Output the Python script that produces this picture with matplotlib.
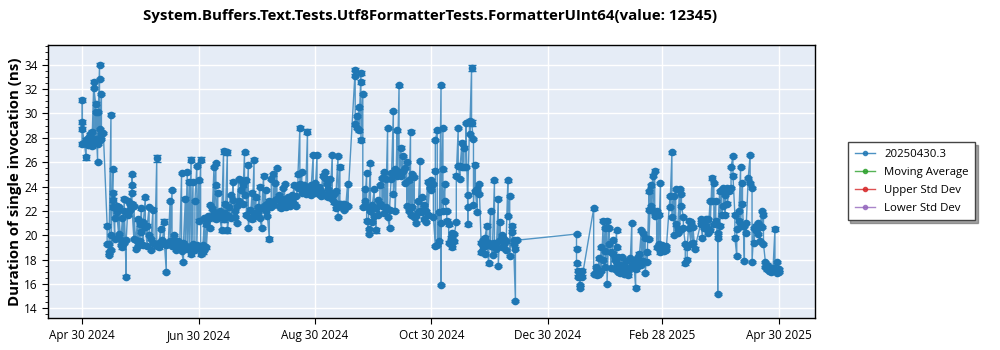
import numpy as np
import matplotlib
matplotlib.use("Agg")
import matplotlib.pyplot as plt
import matplotlib.dates as mdates
from matplotlib.lines import Line2D
from datetime import datetime, timedelta

plt.rcParams["font.family"] = ["Open Sans", "DejaVu Sans"]

# run date offset (days from first run), measured values in ns, stderr in ns
START = datetime(2024, 4, 30)

may_jun = [
    (0, [29.3, 31.1, 27.5, 28.7], 0.15), (1, [27.6], 0.1), (2, [26.4, 27.8], 0.2),
    (3, [27.4, 28.0], 0.1), (4, [27.5, 28.3], 0.1), (5, [27.9, 28.5, 27.3], 0.1),
    (6, [32.6, 27.6, 32.1], 0.1), (7, [30.8, 27.9, 30.1], 0.1), (8, [26.0, 30.1, 27.5], 0.1),
    (9, [34.0, 28.7, 32.8, 27.8], 0.1), (10, [31.6, 28.3, 27.9], 0.1), (11, [28.4], 0.1),
    (13, [20.8, 19.3], 0.1), (14, [18.6, 18.4, 19.3], 0.1), (15, [29.9, 20.0, 18.8], 0.1),
    (16, [25.4, 23.5, 22.3, 22.9], 0.15), (17, [19.7, 21.4], 0.1), (18, [22.4, 21.9], 0.1),
    (19, [20.1, 22.3], 0.1), (20, [19.6, 19.2], 0.1), (21, [21.4, 19.0], 0.1),
    (22, [23.0, 19.4, 22.0], 0.1), (23, [16.6, 19.6], 0.1), (24, [22.8, 21.7], 0.1),
    (25, [22.6, 22.1], 0.1), (26, [24.1, 25.0, 23.5, 22.6, 22.3], 0.1), (27, [19.7, 22.4], 0.1),
    (28, [18.9, 19.6], 0.1), (29, [21.3, 19.1], 0.1), (30, [20.9, 19.5], 0.1),
    (31, [22.2, 20.3], 0.1), (32, [19.2, 21.1], 0.1), (33, [23.1, 20.7], 0.1),
    (34, [19.1, 20.8], 0.1), (35, [22.3, 20.0], 0.1), (36, [18.8, 19.7], 0.1),
    (37, [22.1, 19.4], 0.1), (38, [19.3], 0.1), (39, [26.3, 19.2], 0.25),
    (40, [19.4, 19.0], 0.1), (41, [20.5, 19.3], 0.1), (42, [19.6], 0.1),
    (43, [21.1, 19.4], 0.2), (44, [17.0, 19.2], 0.1), (45, [19.3], 0.1),
    (46, [22.8, 19.5], 0.1), (47, [23.7, 19.1], 0.1), (48, [20.0, 19.6], 0.1),
    (49, [19.3, 18.8], 0.1), (50, [19.5], 0.1), (51, [18.9, 19.0], 0.1),
    (52, [25.1, 18.7], 0.1), (53, [17.8, 19.4], 0.1), (54, [23.0, 19.2], 0.1),
    (55, [25.2, 18.9], 0.1), (56, [24.4, 19.0], 0.1), (57, [26.2, 18.5], 0.2),
    (58, [24.4, 19.3], 0.1), (59, [18.8, 22.8], 0.1), (60, [25.7, 19.2], 0.1),
    (61, [24.5, 21.2], 0.1), (62, [26.2, 19.0, 18.5], 0.2),
]

jul_aug = [
    (63, [19.2, 18.6], 0.1), (64, [21.4, 18.8], 0.1), (65, [20.9, 19.0], 0.1),
    (66, [21.6, 21.3], 0.1), (67, [20.6, 22.5], 0.1), (68, [22.2, 21.5], 0.1),
    (69, [25.6, 21.9], 0.1), (70, [25.9, 24.1, 21.3], 0.1), (71, [23.5, 21.5], 0.1),
    (72, [22.0, 21.5], 0.1), (73, [20.4, 21.6], 0.1), (74, [26.9, 21.3], 0.2),
    (75, [22.6, 21.8], 0.1), (76, [26.8, 20.4], 0.2), (77, [21.6, 22.3], 0.1),
    (78, [23.3, 21.4], 0.1), (79, [24.4, 22.9], 0.1), (80, [22.0, 21.5], 0.1),
    (81, [21.0, 22.4], 0.1), (82, [24.6, 22.8], 0.1), (83, [23.7, 24.5], 0.1),
    (84, [24.1, 22.6], 0.1), (85, [26.8, 23.3], 0.1), (86, [24.5, 21.7], 0.1),
    (87, [25.8, 20.6], 0.1), (88, [22.1, 21.4], 0.1), (89, [23.5, 21.3], 0.1),
    (90, [26.2, 21.8], 0.1), (91, [23.1, 21.6], 0.1), (92, [22.3, 21.9], 0.1),
    (93, [24.0, 21.4], 0.1), (94, [20.6, 22.2], 0.1), (95, [24.9, 22.4], 0.1),
    (96, [23.7, 22.0], 0.1), (97, [22.6, 21.6], 0.1), (98, [19.7, 22.8], 0.15),
    (99, [22.3, 24.6], 0.1), (100, [25.0, 22.5], 0.1), (101, [24.3, 22.9], 0.1),
    (102, [25.5, 23.0], 0.1), (103, [23.3, 22.4], 0.1), (104, [23.0, 22.2], 0.1),
    (105, [23.9, 22.6], 0.1), (106, [24.2, 22.8], 0.1), (107, [22.3, 23.0], 0.1),
    (108, [23.1, 22.5], 0.1), (109, [22.4, 22.7], 0.1), (110, [23.3, 22.9], 0.1),
    (111, [24.1, 22.6], 0.1), (112, [22.4, 23.2], 0.1), (113, [23.9, 25.0], 0.1),
    (114, [28.8, 24.2], 0.2), (115, [25.2, 23.5], 0.1), (116, [23.6, 24.1], 0.1),
    (117, [23.8, 23.4], 0.1), (118, [28.5, 23.7], 0.2), (119, [24.0, 23.4], 0.1),
    (120, [23.3, 24.1], 0.1), (121, [26.6, 23.7], 0.1), (122, [24.3, 23.5], 0.1),
]

sep_oct = [
    (123, [26.6, 23.7], 0.1), (124, [23.4, 24.0], 0.1), (125, [23.6, 23.2], 0.1),
    (126, [24.9, 23.3], 0.1), (127, [25.2, 24.7], 0.1), (128, [23.4, 24.2], 0.1),
    (129, [23.8, 23.1], 0.1), (130, [24.6, 23.5], 0.1), (131, [26.6, 23.0], 0.1),
    (132, [22.7, 23.4], 0.1), (133, [22.2, 23.6], 0.1), (134, [26.5, 21.5], 0.1),
    (135, [25.6, 22.6], 0.2), (136, [22.3, 22.4], 0.1), (137, [22.1, 22.6], 0.1),
    (138, [22.5, 22.3], 0.1), (139, [24.2, 22.4], 0.1),
    (143, [33.6, 33.1, 29.1], 0.1), (144, [29.8, 28.8], 0.1), (145, [30.5, 28.6], 0.1),
    (146, [33.3, 32.6, 27.8], 0.15), (147, [31.6, 22.3], 0.1), (148, [23.8, 22.8, 22.4], 0.1),
    (149, [25.1, 21.2], 0.1), (150, [20.5, 20.1, 22.3], 0.1), (151, [25.9, 22.0], 0.1),
    (152, [21.1, 22.5], 0.1), (153, [23.8, 21.6], 0.1), (154, [20.4, 22.2], 0.2),
    (155, [22.9, 21.7], 0.1), (156, [22.6, 24.1], 0.1), (157, [24.7, 22.4], 0.1),
    (158, [25.2, 21.8], 0.1), (159, [24.6, 22.3], 0.1), (160, [28.8, 21.5], 0.1),
    (161, [20.6, 22.1], 0.1), (162, [25.1, 24.6], 0.1), (163, [30.2, 23.4], 0.1),
    (164, [25.4, 22.0], 0.1), (165, [28.6, 24.9], 0.1), (166, [32.3, 25.2], 0.1),
    (167, [27.2, 24.9], 0.1), (168, [26.5, 25.3], 0.1), (169, [25.5, 24.3], 0.1),
    (170, [26.0, 22.4], 0.1), (171, [24.5, 22.0], 0.1), (172, [28.5, 21.7], 0.1),
    (173, [25.0, 22.3], 0.1), (174, [24.8, 21.5], 0.1), (175, [21.0, 21.6], 0.1),
    (176, [22.8, 21.9], 0.1), (177, [26.1, 22.0], 0.1), (178, [23.1, 21.9], 0.1),
    (179, [22.5, 21.3], 0.1), (180, [21.1, 22.0], 0.1), (181, [24.4, 21.7], 0.1),
    (182, [24.0, 23.9], 0.1), (183, [24.5, 23.7], 0.1), (184, [24.2, 21.5], 0.1),
    (185, [19.1, 25.3, 27.8], 0.1), (186, [28.6, 19.2], 0.1), (187, [21.9, 19.5], 0.1),
    (188, [32.3, 15.9, 21.0], 0.1),
]

nov_dec = [
    (189, [28.8, 25.4, 22.0], 0.1), (190, [24.2, 22.8], 0.1), (191, [22.0, 21.2], 0.1),
    (192, [20.9, 19.4], 0.1), (193, [19.3, 19.8], 0.1), (194, [19.0, 20.2], 0.1),
    (195, [19.5, 20.1], 0.1), (196, [21.1, 24.9], 0.1), (197, [28.8, 25.7], 0.1),
    (198, [24.6, 25.7], 0.1), (199, [27.6, 25.6], 0.1), (200, [27.2, 25.6], 0.1),
    (201, [25.6, 29.2], 0.1), (202, [22.3, 20.9, 23.3], 0.1), (203, [29.4, 28.3], 0.1),
    (204, [33.7, 29.2], 0.25), (205, [27.9, 22.5], 0.1), (206, [25.8, 23.6], 0.1),
    (207, [21.9, 23.8], 0.1), (208, [23.4, 24.2], 0.1), (209, [19.4, 18.6], 0.1),
    (210, [19.0, 19.6], 0.1), (211, [18.5, 19.8], 0.1), (212, [20.8, 19.2], 0.1),
    (213, [17.7, 19.4], 0.1), (214, [22.0, 19.1], 0.1), (215, [18.4, 19.3], 0.1),
    (216, [24.5, 19.4], 0.1), (217, [19.4, 18.9], 0.1), (218, [23.0, 17.5], 0.1),
    (219, [21.1, 19.6], 0.1), (220, [20.0, 19.0], 0.1), (221, [19.3, 19.7], 0.1),
    (222, [19.5, 18.8], 0.1), (223, [24.5, 21.6], 0.1), (224, [23.2, 18.3], 0.1),
    (225, [20.8, 20.3], 0.1), (226, [19.6, 19.3], 0.1), (227, [14.6, 18.9], 0.1),
    (228, [19.6], 0.1),
]

jan_feb = [
    (259, [20.1, 18.9, 17.7], 0.1), (260, [16.6, 17.1], 0.1), (261, [15.9, 15.7, 16.9], 0.1),
    (262, [17.1, 16.6], 0.1), (268, [22.2, 16.8], 0.1), (269, [17.4, 16.9], 0.1),
    (270, [16.7, 17.2], 0.1), (271, [18.1, 16.8], 0.1), (272, [19.0, 17.1], 0.1),
    (273, [21.2, 18.0], 0.1), (274, [20.6, 18.7, 17.4], 0.1), (275, [21.2, 16.0], 0.1),
    (276, [20.6, 19.3], 0.1), (277, [18.6, 17.3], 0.1), (278, [19.6, 18.5], 0.1),
    (279, [17.2, 18.0], 0.1), (280, [20.4, 19.0, 17.7], 0.1), (281, [18.2, 17.0], 0.1),
    (282, [17.6, 16.9], 0.1), (283, [18.2, 17.3], 0.1), (284, [16.8, 17.5], 0.1),
    (285, [17.3, 17.9], 0.1), (286, [17.1, 16.7], 0.1), (287, [18.1, 17.3], 0.1),
    (288, [21.0, 17.6], 0.1), (289, [17.4, 18.0], 0.1), (290, [15.7, 17.2], 0.1),
    (291, [18.2, 17.5], 0.1), (292, [17.9, 18.5], 0.1), (293, [20.4, 17.6], 0.1),
    (294, [20.2, 17.9], 0.1), (295, [19.8, 16.9], 0.1), (296, [18.6, 17.8], 0.1),
    (297, [23.6, 22.1, 19.7], 0.1), (298, [24.1, 22.4], 0.1), (299, [24.9, 22.0], 0.1),
    (300, [25.3, 21.6], 0.1), (301, [22.0, 19.0], 0.1), (302, [21.7, 19.3], 0.1),
    (303, [24.3, 18.6], 0.1), (304, [18.9, 19.2], 0.1), (305, [18.7], 0.1),
    (306, [19.1, 18.8], 0.1),
]

mar_apr = [
    (308, [23.2, 22.3], 0.1), (309, [26.8, 21.5], 0.1), (310, [23.2, 20.0], 0.1),
    (311, [23.8, 20.9], 0.1), (312, [20.2, 20.5], 0.1), (313, [23.8, 20.4], 0.1),
    (314, [23.4, 22.4], 0.1), (315, [21.5, 20.6], 0.1), (316, [19.3, 17.7], 0.1),
    (317, [18.0, 19.0], 0.1), (318, [21.2, 20.6], 0.1), (319, [19.3, 21.1], 0.1),
    (320, [19.4, 20.7], 0.1), (321, [18.9], 0.1), (324, [20.9, 21.3], 0.1),
    (325, [19.8, 21.0], 0.1), (326, [21.2, 20.6], 0.1), (327, [20.8, 21.3], 0.1),
    (328, [21.3, 20.2], 0.1), (329, [22.8, 20.4], 0.1), (330, [24.7, 22.8], 0.15),
    (331, [24.3, 20.9], 0.1), (332, [22.8, 21.2], 0.1), (333, [19.8, 15.2, 20.2], 0.1),
    (334, [23.6, 20.8], 0.1), (335, [23.6, 21.7], 0.1), (336, [22.4, 23.9], 0.1),
    (337, [21.7, 23.3], 0.1), (338, [23.9, 22.6], 0.1), (339, [23.6], 0.1),
    (340, [23.9, 25.6], 0.1), (341, [26.5, 24.9], 0.1), (342, [21.7, 19.8], 0.1),
    (343, [18.3, 20.5], 0.1), (344, [22.0, 21.2], 0.1), (345, [25.6, 20.8], 0.1),
    (346, [24.3, 22.6], 0.1), (347, [17.9, 20.8], 0.1), (348, [20.2, 21.0], 0.1),
    (349, [24.7], 0.1), (350, [26.6, 24.3], 0.1), (351, [23.9, 17.8], 0.1),
    (352, [20.6, 19.4], 0.1), (353, [20.8, 20.4], 0.1), (354, [21.0, 20.1], 0.1),
    (355, [20.8, 19.5], 0.1), (356, [22.0, 20.7], 0.1), (357, [21.7, 19.3], 0.1),
    (358, [17.8, 17.4], 0.1), (359, [17.2, 17.6], 0.1), (360, [17.4, 17.1], 0.1),
    (361, [17.3, 17.0], 0.1), (362, [17.1, 17.3], 0.1), (363, [20.5, 17.2], 0.15),
    (364, [17.8, 16.9, 17.1], 0.1), (365, [17.2, 17.0], 0.1),
]

tick_dates = [datetime(2024, 4, 30), datetime(2024, 6, 30), datetime(2024, 8, 30),
              datetime(2024, 10, 30), datetime(2024, 12, 30), datetime(2025, 2, 28),
              datetime(2025, 4, 30)]

legend_labels = ["20250430.3", "Moving Average", "Upper Std Dev", "Lower Std Dev"]
legend_colors = ["#1f77b4", "#2ca02c", "#d62728", "#9467bd"]

# flatten the per-day samples
dates, vals, errs = [], [], []
for seg in (may_jun, jul_aug, sep_oct, nov_dec, jan_feb, mar_apr):
    for day, samples, err in seg:
        for v in samples:
            dates.append(START + timedelta(days=day))
            vals.append(v)
            errs.append(err)

fig = plt.figure(figsize=(10, 3.5), dpi=100)
ax = fig.add_axes([0.048, 0.091, 0.767, 0.78])
ax.set_facecolor("#E5ECF6")

ax.plot(dates, vals, color="#1f77b4", lw=1.0, alpha=0.75, zorder=2)
ax.errorbar(dates, vals, yerr=errs, fmt="o", color="#1f77b4", ms=4.5,
            elinewidth=1, capsize=3, capthick=1, zorder=3)

ax.set_ylim(13.2, 35.6)
ax.set_xlim(datetime(2024, 4, 12), datetime(2025, 5, 19))
ax.set_yticks(np.arange(14, 35, 2))
ax.set_yticks(np.arange(13.5, 35.6, 0.5), minor=True)
ax.set_xticks(tick_dates)
ax.xaxis.set_major_formatter(mdates.DateFormatter("%b %d %Y"))
ax.tick_params(axis="both", labelsize=8.5, length=4, color="black")
ax.tick_params(axis="y", which="minor", length=2)
ax.grid(True, color="white", lw=1)
ax.set_axisbelow(True)
for s in ax.spines.values():
    s.set_color("black")
    s.set_linewidth(1)

ax.set_ylabel("Duration of single invocation (ns)", fontsize=10.8, fontweight="bold")
ax.yaxis.set_label_coords(-0.034, 0.5)
fig.suptitle("System.Buffers.Text.Tests.Utf8FormatterTests.FormatterUInt64(value: 12345)",
             fontsize=10.8, fontweight="bold", x=0.43, y=0.975)

handles = [Line2D([0], [0], color=c, lw=1, marker="o", ms=3, alpha=0.8) for c in legend_colors]
leg = fig.legend(handles, legend_labels, loc="upper left", bbox_to_anchor=(0.842, 0.61),
                 fontsize=8.2, frameon=True, fancybox=False, shadow=True,
                 edgecolor="#444444", handlelength=1.8, borderpad=0.6, labelspacing=0.6)
leg.get_frame().set_linewidth(1)

fig.savefig("out.png", dpi=100)
